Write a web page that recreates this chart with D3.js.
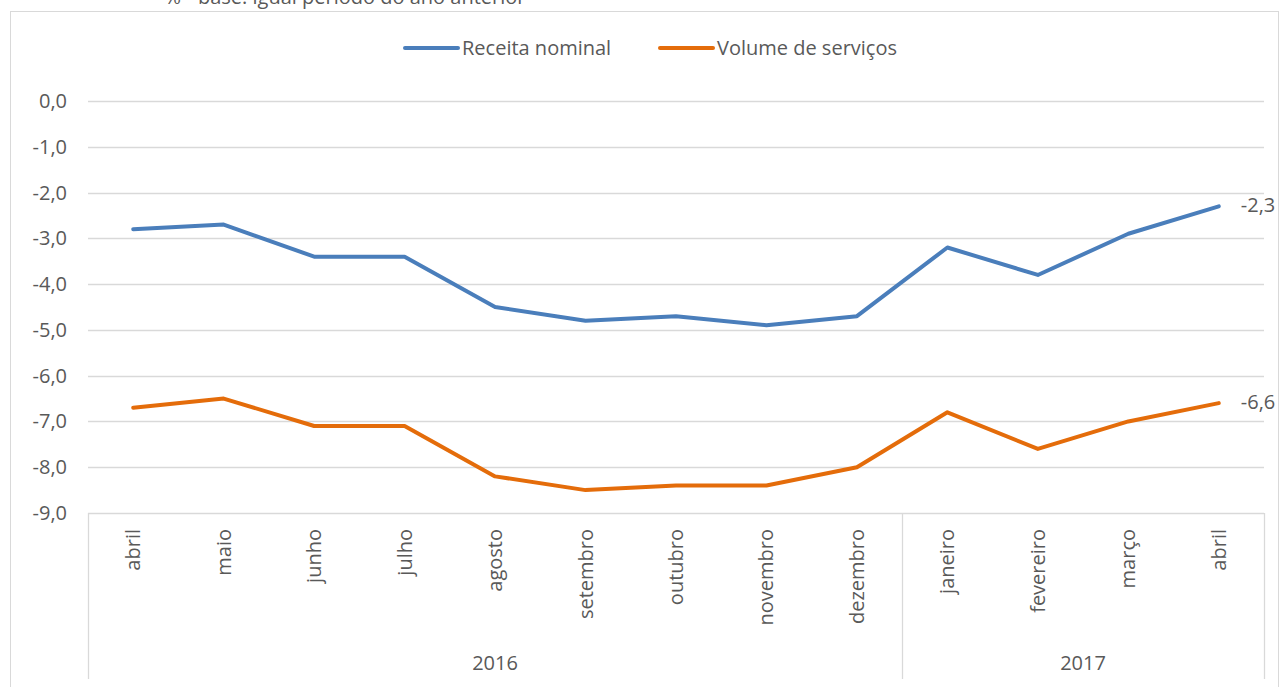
<!DOCTYPE html>
<html>
<head>
<meta charset="utf-8">
<script src="https://cdn.jsdelivr.net/npm/d3@7"></script>
<style>
  body { margin: 0; background: #fff; }
  text { font-family: "Open Sans", sans-serif; fill: #595959; }
</style>
</head>
<body>
<svg id="chart" width="1281" height="687"></svg>
<script>
var months = ["abril","maio","junho","julho","agosto","setembro","outubro","novembro","dezembro","janeiro","fevereiro","março","abril"];
var years = ["2016","2017"];
var yearSpan = [9, 4];
var receita = [-2.8,-2.7,-3.4,-3.4,-4.5,-4.8,-4.7,-4.9,-4.7,-3.2,-3.8,-2.9,-2.3];
var volume = [-6.7,-6.5,-7.1,-7.1,-8.2,-8.5,-8.4,-8.4,-8.0,-6.8,-7.6,-7.0,-6.6];
var yTicks = [0,-1,-2,-3,-4,-5,-6,-7,-8,-9];
var seriesNames = ["Receita nominal","Volume de serviços"];
var colors = ["#4a7ebb","#e46c0a"];

var svg = d3.select("#chart");
var plotLeft = 88, plotRight = 1264, plotTop = 101, plotBottom = 513;
var FONT = "20px";

// chart frame
svg.append("rect")
    .attr("x", 10.5).attr("y", 11.5)
    .attr("width", 1268).attr("height", 700)
    .attr("fill", "none").attr("stroke", "#d9d9d9");

svg.append("text")
    .attr("x", 345).attr("y", 4)
    .attr("text-anchor", "middle")
    .style("font-size", FONT)
    .text("% - base: igual período do ano anterior");

var x = d3.scaleBand().domain(d3.range(months.length)).range([plotLeft, plotRight]);
var y = d3.scaleLinear().domain([-9, 0]).range([plotBottom, plotTop]);
var fmt = function(v) { return d3.format(".1f")(v).replace(".", ",").replace("−", "-"); };

// gridlines
svg.append("g").selectAll("line").data(yTicks).join("line")
    .attr("x1", plotLeft).attr("x2", plotRight)
    .attr("y1", d => Math.round(y(d)) + 0.5).attr("y2", d => Math.round(y(d)) + 0.5)
    .attr("stroke", "#d9d9d9").attr("stroke-width", 1.3);

svg.append("g").selectAll("text").data(yTicks).join("text")
    .attr("x", 67).attr("y", d => y(d) + 7)
    .attr("text-anchor", "end")
    .style("font-size", FONT)
    .text(d => fmt(d));

// category axis: month labels
svg.append("g").selectAll("text").data(months).join("text")
    .attr("transform", (d, i) => "translate(" + (x(i) + x.bandwidth() / 2 + 7) + ",529) rotate(-90)")
    .attr("text-anchor", "end")
    .style("font-size", FONT)
    .text(d => d);

// year groups
var acc = 0, bounds = [0];
yearSpan.forEach(function(n) { acc += n; bounds.push(acc); });
var bx = function(b) { return b < months.length ? x(b) : plotRight; };
svg.append("g").selectAll("line").data(bounds).join("line")
    .attr("x1", d => Math.round(bx(d)) + 0.5)
    .attr("x2", d => Math.round(bx(d)) + 0.5)
    .attr("y1", plotBottom).attr("y2", 679)
    .attr("stroke", "#d9d9d9").attr("stroke-width", 1.3);

svg.append("g").selectAll("text").data(years).join("text")
    .attr("x", (d, i) => (bx(bounds[i]) + bx(bounds[i + 1])) / 2)
    .attr("y", 670)
    .attr("text-anchor", "middle")
    .style("font-size", FONT)
    .text(d => d);

// lines
var line = d3.line().x((d, i) => x(i) + x.bandwidth() / 2).y(d => y(d));
[receita, volume].forEach(function(s, k) {
    svg.append("path")
        .datum(s)
        .attr("d", line)
        .attr("fill", "none")
        .attr("stroke", colors[k])
        .attr("stroke-width", 4)
        .attr("stroke-linejoin", "round")
        .attr("stroke-linecap", "round");
    var last = s.length - 1;
    svg.append("text")
        .attr("x", x(last) + x.bandwidth() / 2 + 22)
        .attr("y", y(s[last]) + 6)
        .style("font-size", FONT)
        .text(fmt(s[last]));
});

// legend
var legendX = [405, 660];
var lg = svg.append("g").selectAll("g").data(seriesNames).join("g")
    .attr("transform", (d, i) => "translate(" + legendX[i] + ",48)");
lg.append("line")
    .attr("x1", 0).attr("x2", 53).attr("y1", 0).attr("y2", 0)
    .attr("stroke", (d, i) => colors[i]).attr("stroke-width", 4)
    .attr("stroke-linecap", "round");
lg.append("text")
    .attr("x", 57).attr("y", 7)
    .style("font-size", FONT)
    .text(d => d);
</script>
</body>
</html>
